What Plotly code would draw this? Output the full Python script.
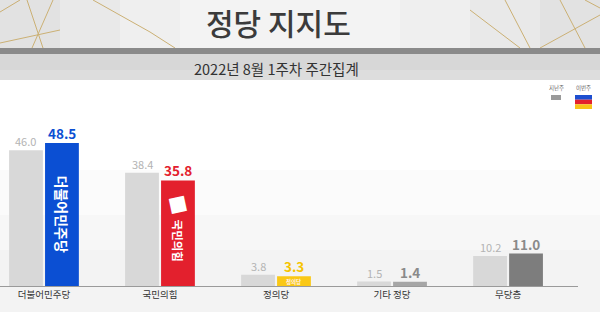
import plotly.graph_objects as go

# ---- data ----
categories = ["더불어민주당", "국민의힘", "정의당", "기타 정당", "무당층"]
last_week = [46.0, 38.4, 3.8, 1.5, 10.2]
this_week = [48.5, 35.8, 3.3, 1.4, 11.0]
this_week_colors = ["#0b4fd3", "#e3202d", "#fac816", "#a6a6a6", "#7d7d7d"]
this_week_label_colors = ["#0b4fd3", "#e3202d", "#f6c400", "#8a8a8a", "#8a8a8a"]
bar_inner_names = ["더불어민주당", "국민의힘", "정의당"]
legend_labels = ["지난주", "이번주"]
title_text = "정당 지지도"
subtitle_text = "2022년 8월 1주차 주간집계"

W, H = 600, 312
ML, MR, MT, MB = 0, 22, 100, 26
PW, PH = W - ML - MR, H - MT - MB
FONT = "Noto Sans CJK KR"
OFFSET = 0.155  # half a bar slot: centre of each bar relative to its group


def px(x):
    return (x - ML) / PW


def py(y):
    return (H - MB - y) / PH


xpos = list(range(len(categories)))

fig = go.Figure()
fig.add_trace(go.Bar(
    x=xpos, y=last_week, name=legend_labels[0],
    marker=dict(color="#d8d8d8", line=dict(width=0)),
    hoverinfo="skip",
))
fig.add_trace(go.Bar(
    x=xpos, y=this_week, name=legend_labels[1],
    marker=dict(color=this_week_colors, line=dict(width=0)),
    hoverinfo="skip",
))

shapes = []
# chart background: soft grey toward the baseline
for (y0, y1, c) in [(85, 312, "#ffffff"), (170, 312, "#fbfbfb"),
                    (215, 312, "#f7f7f7"), (250, 312, "#f3f3f3")]:
    shapes.append(dict(type="rect", xref="paper", yref="paper", layer="below",
                       x0=px(0), x1=px(W), y0=py(y1), y1=py(y0),
                       fillcolor=c, line_width=0))

# header block
shapes.append(dict(type="rect", xref="paper", yref="paper", layer="below",
                   x0=px(0), x1=px(W), y0=py(48), y1=py(0),
                   fillcolor="#e2e2e2", line_width=0))
for (x0, x1, c) in [(60, 540, "#e9e9e9"), (120, 470, "#efefef"), (180, 400, "#f3f3f3")]:
    shapes.append(dict(type="rect", xref="paper", yref="paper", layer="below",
                       x0=px(x0), x1=px(x1), y0=py(48), y1=py(0),
                       fillcolor=c, line_width=0))
# gold accent lines
gold = [((27, 0), (43, 48)), ((32, 48), (53, 0)), ((0, 43), (60, 30)),
        ((93, 0), (150, 32)), ((0, 12), (20, 0)), ((150, 32), (175, 48)),
        ((505, 0), (530, 48)), ((540, 48), (600, 15)), ((560, 0), (585, 48)),
        ((470, 10), (520, 48)), ((585, 0), (600, 8))]
for (a, b) in gold:
    shapes.append(dict(type="line", xref="paper", yref="paper", layer="below",
                       x0=px(a[0]), y0=py(a[1]), x1=px(b[0]), y1=py(b[1]),
                       line=dict(color="#cbb074", width=1)))
# dark band and subtitle band
shapes.append(dict(type="rect", xref="paper", yref="paper", layer="below",
                   x0=px(0), x1=px(W), y0=py(54), y1=py(48),
                   fillcolor="#8a8a8a", line_width=0))
shapes.append(dict(type="rect", xref="paper", yref="paper", layer="below",
                   x0=px(0), x1=px(W), y0=py(80), y1=py(54),
                   fillcolor="#d7d7d7", line_width=0))
shapes.append(dict(type="rect", xref="paper", yref="paper", layer="below",
                   x0=px(0), x1=px(W), y0=py(80), y1=py(70),
                   fillcolor="#dddddd", line_width=0))

# legend swatches
shapes.append(dict(type="rect", xref="paper", yref="paper",
                   x0=px(551), x1=px(561), y0=py(100), y1=py(95),
                   fillcolor="#9a9a9a", line_width=0))
for (y0, y1, c) in [(95, 99.7, "#1d4fd0"), (99.7, 104.3, "#e3202d"), (104.3, 109, "#f8c318")]:
    shapes.append(dict(type="rect", xref="paper", yref="paper",
                       x0=px(575), x1=px(592), y0=py(y1), y1=py(y0),
                       fillcolor=c, line_width=0))

annotations = [
    dict(text=title_text, xref="paper", yref="paper", x=px(278), y=py(22),
         showarrow=False, xanchor="center", yanchor="middle",
         font=dict(family=FONT, size=30, color="#3b3b3b", weight=500)),
    dict(text=subtitle_text, xref="paper", yref="paper", x=px(276), y=py(69),
         showarrow=False, xanchor="center", yanchor="middle",
         font=dict(family=FONT, size=14.5, color="#333333")),
    dict(text=legend_labels[0], xref="paper", yref="paper", x=px(556), y=py(88),
         showarrow=False, xanchor="center", yanchor="middle",
         font=dict(family=FONT, size=5.5, color="#666666")),
    dict(text=legend_labels[1], xref="paper", yref="paper", x=px(583.5), y=py(88),
         showarrow=False, xanchor="center", yanchor="middle",
         font=dict(family=FONT, size=5.5, color="#666666")),
]

# value labels above the bars
for i, v in enumerate(last_week):
    annotations.append(dict(text=f"{v:.1f}", x=i - OFFSET, y=v, xref="x", yref="y",
                            showarrow=False, yanchor="bottom", yshift=-1,
                            font=dict(family=FONT, size=11, color="#b3b3b3")))
for i, v in enumerate(this_week):
    annotations.append(dict(text=f"{v:.1f}", x=i + OFFSET, y=v, xref="x", yref="y",
                            showarrow=False, yanchor="bottom", yshift=-2,
                            font=dict(family=FONT, size=13.5,
                                      color=this_week_label_colors[i], weight="bold")))

# party names written inside this week's bars
annotations.append(dict(text=bar_inner_names[0], x=0 + OFFSET, y=this_week[0] * 0.5,
                        xref="x", yref="y", showarrow=False, textangle=90,
                        font=dict(family=FONT, size=14, color="white", weight="bold")))
annotations.append(dict(text="■", x=1 + OFFSET, y=this_week[1] * 0.79,
                        xref="x", yref="y", showarrow=False, textangle=-12,
                        font=dict(family="DejaVu Sans", size=20, color="white")))
annotations.append(dict(text=bar_inner_names[1], x=1 + OFFSET, y=this_week[1] * 0.43,
                        xref="x", yref="y", showarrow=False, textangle=90,
                        font=dict(family=FONT, size=11.5, color="white", weight="bold")))
annotations.append(dict(text=bar_inner_names[2], x=2 + OFFSET, y=this_week[2] * 0.42,
                        xref="x", yref="y", showarrow=False,
                        font=dict(family=FONT, size=5.5, color="#fff3f0", weight="bold")))

fig.update_layout(
    width=W, height=H,
    margin=dict(l=ML, r=MR, t=MT, b=MB, pad=0),
    paper_bgcolor="white", plot_bgcolor="rgba(0,0,0,0)",
    barmode="group", bargap=0.38, bargroupgap=0.06,
    showlegend=False,
    shapes=shapes, annotations=annotations,
    xaxis=dict(range=[-0.379, 4.603], tickvals=xpos, ticktext=categories,
               showline=True, linecolor="#9a9a9a", linewidth=1,
               showgrid=False, zeroline=False, ticks="",
               tickfont=dict(family=FONT, size=9.5, color="#333333"),
               fixedrange=True),
    yaxis=dict(range=[0, PH / 2.95], visible=False, fixedrange=True),
)

fig.write_html("out.html")
